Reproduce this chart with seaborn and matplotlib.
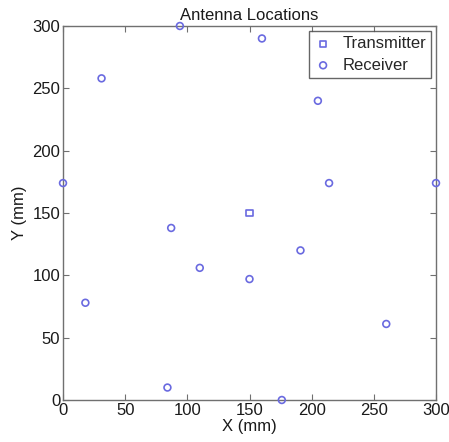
import matplotlib
matplotlib.use("Agg")
import matplotlib.pyplot as plt
import seaborn as sns
import pandas as pd

tx_x = [150]
tx_y = [150]
rx_x = [31, 94, 160, 205, 0, 300, 214, 87, 110, 150, 191, 18, 260, 84, 176]
rx_y = [258, 300, 290, 240, 174, 174, 174, 138, 106, 97, 120, 78, 61, 10, 0]
xticks = [0, 50, 100, 150, 200, 250, 300]
yticks = [0, 50, 100, 150, 200, 250, 300]

sns.set_style("white")
plt.rcParams['font.family'] = ['Liberation Sans', 'DejaVu Sans']

fig = plt.figure(figsize=(4.49, 4.42), dpi=100)
ax = fig.add_axes([63/449, 42/442, 373/449, 374/442])

c = '#6a6ae0'
sns.scatterplot(x=tx_x, y=tx_y, marker='s', s=20, fc='none', ec=c, linewidth=1.2,
                label='Transmitter', ax=ax, clip_on=False, zorder=3)
sns.scatterplot(x=rx_x, y=rx_y, marker='o', s=24, fc='none', ec=c, linewidth=1.2,
                label='Receiver', ax=ax, clip_on=False, zorder=3)

ax.set_xlim(0, 300)
ax.set_ylim(0, 300)
ax.set_xticks(xticks)
ax.set_yticks(yticks)
ax.tick_params(direction='in', length=4, width=0.8, color='#707070', labelsize=12, pad=2,
               top=True, right=True, bottom=True, left=True, labelcolor='#1a1a1a')
for s in ax.spines.values():
    s.set_color('#707070')
    s.set_linewidth(1.0)
ax.set_xlabel('X (mm)', fontsize=12, labelpad=1, color='#1a1a1a')
ax.set_ylabel('Y (mm)', fontsize=12, labelpad=4, color='#1a1a1a')
ax.set_title('Antenna Locations', fontsize=12, pad=4, color='#1a1a1a')
leg = ax.legend(loc='upper right', fontsize=12, frameon=True, fancybox=False,
                edgecolor='#404040', borderpad=0.3, handletextpad=0.6, labelspacing=0.4,
                borderaxespad=0.3, handlelength=1.1)
leg.get_frame().set_linewidth(1.0)

fig.savefig('out.png', dpi=100, facecolor='white')
